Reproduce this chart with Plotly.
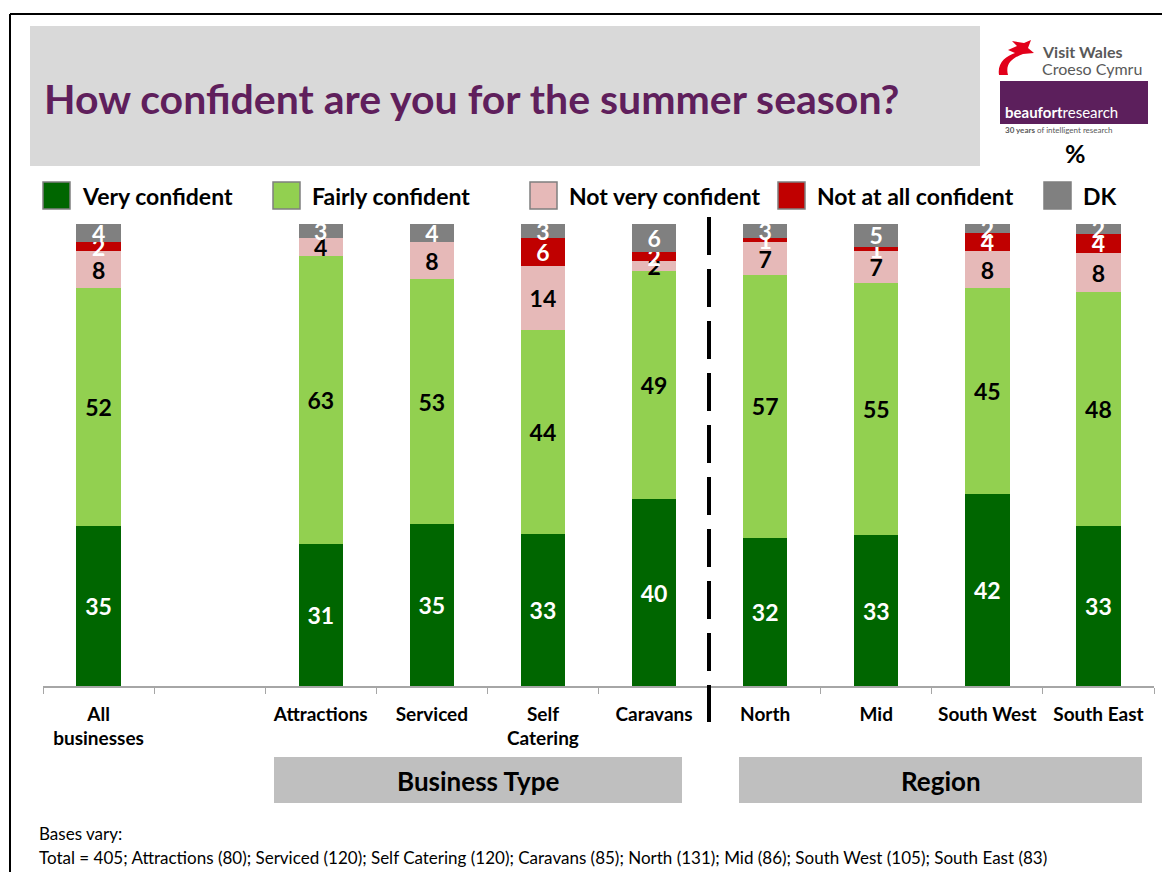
import plotly.graph_objects as go

# ---- data -------------------------------------------------------------
categories = ["All<br>businesses", " ", "Attractions", "Serviced", "Self<br>Catering",
              "Caravans", "North", "Mid", "South West", "South East"]

very_confident = [35, None, 31, 35, 33, 40, 32, 33, 42, 33]
fairly_confident = [52, None, 63, 53, 44, 49, 57, 55, 45, 48]
not_very_confident = [8, None, 4, 8, 14, 2, 7, 7, 8, 8]
not_at_all_confident = [2, None, 0, 0, 6, 2, 1, 1, 4, 4]
dont_know = [4, None, 3, 4, 3, 6, 3, 5, 2, 2]

series_names = ["Very confident", "Fairly confident", "Not very confident",
                "Not at all confident", "DK"]
series_values = [very_confident, fairly_confident, not_very_confident,
                 not_at_all_confident, dont_know]
series_colors = ["#006600", "#92d050", "#e6b9b8", "#c00000", "#808080"]
label_colors = ["white", "black", "black", "white", "white"]

group_labels = ["Business Type", "Region"]
base_note = ("Total = 405; Attractions (80); Serviced (120); Self Catering (120); "
             "Caravans (85); North (131); Mid (86); South West (105); South East (83)")

FONT = "Lato"

# ---- pixel helpers (plot area spans x 43..1154, y 686..224) ------------
X0, X1, Y0, Y1 = 43, 1154, 686, 224


def px(x):
    return (x - X0) / (X1 - X0)


def py(y):
    return (Y0 - y) / (Y0 - Y1)


def path(cmds):
    out = []
    for c in cmds:
        if isinstance(c, str):
            out.append(c)
        else:
            out.append(f"{px(c[0]):.5f},{py(c[1]):.5f}")
    return " ".join(out)


fig = go.Figure()

for name, vals, col, tcol in zip(series_names, series_values, series_colors, label_colors):
    fig.add_trace(go.Bar(
        x=categories,
        y=vals,
        name=name,
        marker=dict(color=col, line=dict(width=0)),
        text=["" if not v else str(v) for v in vals],
        textposition="inside",
        insidetextanchor="middle",
        textangle=0,
        constraintext="none",
        cliponaxis=False,
        textfont=dict(family=FONT, size=23, color=tcol, weight="bold"),
        hoverinfo="x+y+name",
        showlegend=False,
    ))

shapes = []
annotations = []

# outer frame
shapes.append(dict(type="line", xref="paper", yref="paper",
                   x0=px(10), x1=px(1162), y0=py(14), y1=py(14),
                   line=dict(color="black", width=2)))
shapes.append(dict(type="line", xref="paper", yref="paper",
                   x0=px(10), x1=px(10), y0=py(14), y1=py(872),
                   line=dict(color="black", width=2)))

# title panel
shapes.append(dict(type="rect", xref="paper", yref="paper", layer="below",
                   x0=px(30), x1=px(980), y0=py(26), y1=py(166),
                   fillcolor="#d9d9d9", line=dict(width=0)))
annotations.append(dict(text="How confident are you for the summer season?",
                        xref="paper", yref="paper", x=px(42), y=py(98),
                        xanchor="left", yanchor="middle", showarrow=False,
                        font=dict(family=FONT, size=41, color="#5f1f5c", weight="bold")))

# logos
shapes.append(dict(type="path", xref="paper", yref="paper",
                   path=path(["M", (999, 75), "C", (997, 63), (1006, 56), (1015, 53),
                              "L", (1008, 50), "L", (1017, 46), "L", (1012, 41),
                              "L", (1024, 43), "L", (1031, 40), "L", (1028, 48),
                              "L", (1034, 53), "L", (1023, 54),
                              "C", (1012, 58), (1005, 64), (1008, 75), "Z"]),
                   fillcolor="#e2001a", line=dict(width=0)))
annotations.append(dict(text="Visit Wales", xref="paper", yref="paper",
                        x=px(1040), y=py(51), xanchor="left", yanchor="middle",
                        showarrow=False,
                        font=dict(family=FONT, size=16, color="#595959", weight="bold")))
annotations.append(dict(text="Croeso Cymru", xref="paper", yref="paper",
                        x=px(1040), y=py(68), xanchor="left", yanchor="middle",
                        showarrow=False,
                        font=dict(family=FONT, size=16, color="#595959")))
shapes.append(dict(type="rect", xref="paper", yref="paper",
                   x0=px(1000), x1=px(1148), y0=py(81), y1=py(124),
                   fillcolor="#5c1f5c", line=dict(width=0)))
annotations.append(dict(text="<b>beaufort</b>research", xref="paper", yref="paper",
                        x=px(1003), y=py(112), xanchor="left", yanchor="middle",
                        showarrow=False,
                        font=dict(family=FONT, size=15, color="white")))
annotations.append(dict(text="<b>30 years</b> of intelligent research", xref="paper",
                        yref="paper", x=px(1003), y=py(130), xanchor="left",
                        yanchor="middle", showarrow=False,
                        font=dict(family=FONT, size=8, color="#595959")))
annotations.append(dict(text="%", xref="paper", yref="paper",
                        x=px(1075), y=py(153), xanchor="center", yanchor="middle",
                        showarrow=False,
                        font=dict(family=FONT, size=25, color="black", weight="bold")))

# legend row
legend_x = [43, 273, 530, 778, 1044]
for lx, name, col in zip(legend_x, series_names, series_colors):
    shapes.append(dict(type="rect", xref="paper", yref="paper",
                       x0=px(lx), x1=px(lx + 27), y0=py(182), y1=py(209),
                       fillcolor=col, line=dict(color="#7f7f7f", width=1.5)))
    annotations.append(dict(text=name, xref="paper", yref="paper",
                            x=px(lx + 37), y=py(196), xanchor="left",
                            yanchor="middle", showarrow=False,
                            font=dict(family=FONT, size=23, color="black",
                                      weight="bold")))

# dashed divider between business type and region
shapes.append(dict(type="line", xref="paper", yref="paper",
                   x0=px(709), x1=px(709), y0=py(217), y1=py(722),
                   line=dict(color="black", width=4, dash="38px,14px")))

# group boxes
for (gx0, gx1), label in zip([(274, 682), (739, 1142)], group_labels):
    shapes.append(dict(type="rect", xref="paper", yref="paper",
                       x0=px(gx0), x1=px(gx1), y0=py(757), y1=py(803),
                       fillcolor="#bfbfbf", line=dict(width=0)))
    annotations.append(dict(text=label, xref="paper", yref="paper",
                            x=px((gx0 + gx1) / 2), y=py(781), xanchor="center",
                            yanchor="middle", showarrow=False,
                            font=dict(family=FONT, size=26, color="black",
                                      weight="bold")))

# base notes
annotations.append(dict(text="Bases vary:", xref="paper", yref="paper",
                        x=px(37), y=py(833), xanchor="left", yanchor="middle",
                        showarrow=False,
                        font=dict(family=FONT, size=17, color="black")))
annotations.append(dict(text=base_note, xref="paper", yref="paper",
                        x=px(37), y=py(857), xanchor="left", yanchor="middle",
                        showarrow=False,
                        font=dict(family=FONT, size=17, color="black")))

fig.update_layout(
    width=1162, height=872, autosize=False,
    margin=dict(l=X0, r=1162 - X1, t=Y1, b=872 - Y0, pad=0, autoexpand=False),
    barmode="stack", barnorm="percent", bargap=0.6,
    paper_bgcolor="white", plot_bgcolor="white",
    shapes=shapes, annotations=annotations,
    xaxis=dict(type="category", categoryorder="array", categoryarray=categories,
               tickson="boundaries", ticks="outside", ticklen=6,
               tickcolor="#a6a6a6", showline=True, linecolor="#a6a6a6",
               linewidth=1.5, showgrid=False, zeroline=False, fixedrange=True,
               tickangle=0, automargin=False, ticklabelstandoff=10,
               tickfont=dict(family=FONT, size=19, color="black", weight="bold")),
    yaxis=dict(range=[0, 100.001], visible=False, fixedrange=True,
               automargin=False),
    showlegend=False,
)

fig.write_html("out.html")
